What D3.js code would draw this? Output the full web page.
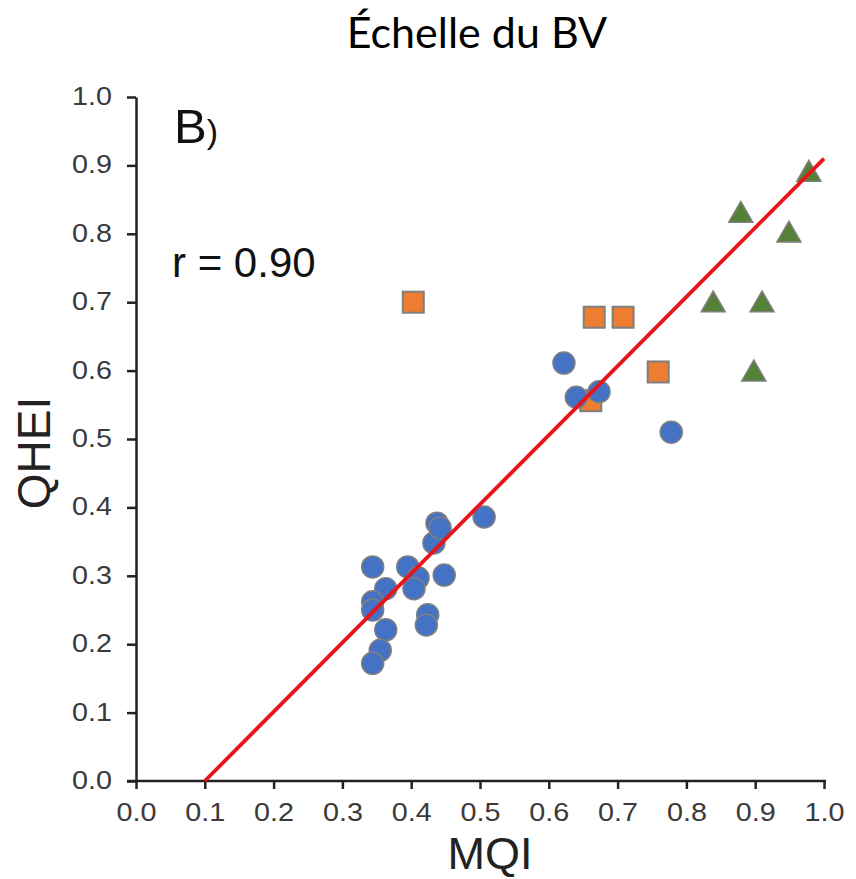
<!DOCTYPE html>
<html>
<head>
<meta charset="utf-8">
<script src="https://cdn.jsdelivr.net/npm/d3@7"></script>
<style>
  html, body { margin: 0; padding: 0; background: #fff; }
  svg { display: block; }
</style>
</head>
<body>
<svg id="chart" width="856" height="879"></svg>
<script>
// Watershed-scale comparison of QHEI vs MQI scores
const circleX = [0.344, 0.395, 0.410, 0.448, 0.363, 0.404, 0.344, 0.344, 0.424, 0.422, 0.363, 0.355, 0.344,
                 0.433, 0.4375, 0.442, 0.506, 0.622, 0.640, 0.673, 0.778];
const circleY = [0.313, 0.313, 0.297, 0.301, 0.281, 0.281, 0.262, 0.250, 0.243, 0.228, 0.221, 0.191, 0.172,
                 0.348, 0.377, 0.370, 0.386, 0.611, 0.561, 0.569, 0.510];
const squareX = [0.403, 0.661, 0.666, 0.708, 0.759];
const squareY = [0.700, 0.556, 0.678, 0.678, 0.598];
const triangleX = [0.978, 0.879, 0.949, 0.839, 0.910, 0.898];
const triangleY = [0.890, 0.830, 0.801, 0.699, 0.699, 0.598];
const fitX = [0.1, 1.0];
const fitY = [0.0, 0.91];
const xTicks = [0.0, 0.1, 0.2, 0.3, 0.4, 0.5, 0.6, 0.7, 0.8, 0.9, 1.0];
const yTicks = [0.0, 0.1, 0.2, 0.3, 0.4, 0.5, 0.6, 0.7, 0.8, 0.9, 1.0];

const svg = d3.select("#chart");
const x = d3.scaleLinear().domain([0, 1]).range([136, 824]);
const y = d3.scaleLinear().domain([0, 1]).range([781, 97]);

const labelFont = "'Liberation Sans', Arial, sans-serif";
const markStroke = "#7f7f7f";

// Title
svg.append("text")
  .attr("x", 477).attr("y", 48)
  .attr("text-anchor", "middle")
  .attr("font-family", "Lato, 'Open Sans', sans-serif")
  .attr("font-size", 43)
  .attr("fill", "#000")
  .text("Échelle du BV");

// Axes
const xAxis = d3.axisBottom(x).tickValues(xTicks).tickFormat(d3.format(".1f")).tickSize(8).tickSizeOuter(0);
const yAxis = d3.axisLeft(y).tickValues(yTicks).tickFormat(d3.format(".1f")).tickSize(9).tickSizeOuter(0);

const gx = svg.append("g").attr("transform", `translate(0,${y(0)})`).call(xAxis);
const gy = svg.append("g").attr("transform", `translate(${x(0)},0)`).call(yAxis);

[gx, gy].forEach(g => {
  g.select(".domain").attr("stroke", "#222").attr("stroke-width", 2.5);
  g.selectAll(".tick line").attr("stroke", "#222").attr("stroke-width", 2.5);
  g.selectAll(".tick text")
    .attr("font-family", labelFont)
    .attr("font-size", 25)
    .attr("fill", "#3a3a3a");
});
gx.select(".domain").attr("d", `M${x(0) - 9},0H${x(1) + 2}`);
gx.selectAll(".tick text")
  .attr("y", 0).attr("dy", 0)
  .attr("transform", "translate(0,40) scale(1.15,1)");
gy.selectAll(".tick text")
  .attr("x", 0).attr("dy", "0.3em")
  .attr("transform", "translate(-24,0) scale(1.15,1)");

// Axis titles
svg.append("text")
  .attr("x", 490).attr("y", 869)
  .attr("text-anchor", "middle")
  .attr("font-family", labelFont)
  .attr("font-size", 45)
  .attr("fill", "#222")
  .text("MQI");

svg.append("text")
  .attr("transform", `translate(50,453) rotate(-90)`)
  .attr("text-anchor", "middle")
  .attr("font-family", labelFont)
  .attr("font-size", 46)
  .attr("fill", "#222")
  .text("QHEI");

// Panel letter and correlation
const panel = svg.append("text")
  .attr("x", 174).attr("y", 143)
  .attr("font-family", labelFont)
  .attr("font-size", 49)
  .attr("fill", "#111");
panel.append("tspan").text("B");
panel.append("tspan").attr("font-size", 34).text(")");

svg.append("text")
  .attr("x", 172).attr("y", 277)
  .attr("font-family", labelFont)
  .attr("font-size", 42)
  .attr("fill", "#111")
  .text("r = 0.90");

// Squares
const sq = 21;
svg.append("g").selectAll("rect")
  .data(d3.zip(squareX, squareY))
  .join("rect")
  .attr("x", d => x(d[0]) - sq / 2)
  .attr("y", d => y(d[1]) - sq / 2)
  .attr("width", sq).attr("height", sq)
  .attr("fill", "#ED7D31")
  .attr("stroke", markStroke).attr("stroke-width", 2);

// Circles
svg.append("g").selectAll("circle")
  .data(d3.zip(circleX, circleY))
  .join("circle")
  .attr("cx", d => x(d[0]))
  .attr("cy", d => y(d[1]))
  .attr("r", 11)
  .attr("fill", "#4472C4")
  .attr("stroke", markStroke).attr("stroke-width", 1.5);

// Triangles
const tri = d3.symbol().type(d3.symbolTriangle).size(250);
svg.append("g").selectAll("path")
  .data(d3.zip(triangleX, triangleY))
  .join("path")
  .attr("transform", d => `translate(${x(d[0])},${y(d[1]) + 2})`)
  .attr("d", tri)
  .attr("fill", "#538135")
  .attr("stroke", markStroke).attr("stroke-width", 1.5);

// Regression line
svg.append("line")
  .attr("x1", x(fitX[0])).attr("y1", y(fitY[0]))
  .attr("x2", x(fitX[1])).attr("y2", y(fitY[1]))
  .attr("stroke", "#E8141B")
  .attr("stroke-width", 3.8);
</script>
</body>
</html>
